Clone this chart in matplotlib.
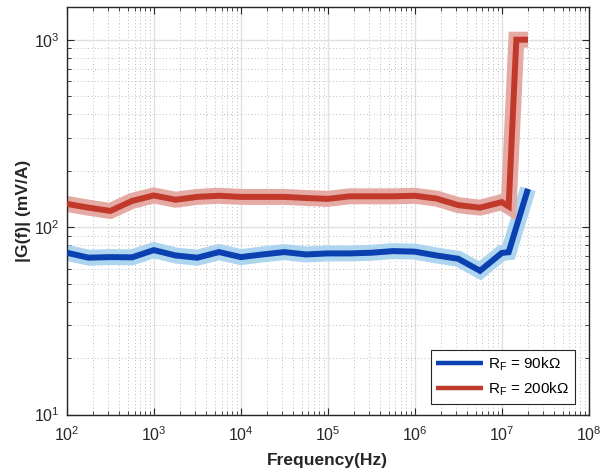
import matplotlib
matplotlib.use("Agg")
import matplotlib.pyplot as plt
from matplotlib.ticker import NullFormatter, FixedLocator, LogFormatterMathtext

plt.rcParams['font.family'] = ['Liberation Sans', 'DejaVu Sans']
plt.rcParams['mathtext.fontset'] = 'custom'
plt.rcParams['mathtext.rm'] = 'Liberation Sans'
plt.rcParams['mathtext.it'] = 'Liberation Sans:italic'

freq = [1e2, 1.78e2, 3.16e2, 5.62e2, 1e3, 1.78e3, 3.16e3, 5.62e3,
        1e4, 1.78e4, 3.16e4, 5.62e4, 1e5, 1.78e5, 3.16e5, 5.62e5,
        1e6, 1.78e6, 3.16e6, 5.62e6, 1e7, 1.2e7, 1.47e7, 2e7]

freq_90k = [1e2, 1.78e2, 3.16e2, 5.62e2, 1e3, 1.78e3, 3.16e3, 5.62e3,
            1e4, 1.78e4, 3.16e4, 5.62e4, 1e5, 1.78e5, 3.16e5, 5.62e5,
            1e6, 1.78e6, 3.16e6, 5.62e6, 1e7, 1.2e7, 2e7]
g_90k = [73, 68.7, 69.2, 69, 75.4, 70.6, 68.7, 73.6,
         69.2, 71.5, 73.6, 71.5, 72.4, 72.4, 73, 74.5,
         74, 70.6, 67.8, 58.5, 72.8, 73.5, 160]

g_200k = [133, 127, 122, 138, 147.5, 140, 145, 147,
          145, 145, 145, 143, 141.5, 146, 146, 146,
          147, 142, 131, 127, 136, 129, 1000, 1000]

xticks = [1e2, 1e3, 1e4, 1e5, 1e6, 1e7, 1e8]
yticks = [1e1, 1e2, 1e3]

labels = [r'R$_\mathregular{F}$ = 90k$\Omega$', r'R$_\mathregular{F}$ = 200k$\Omega$']

fig = plt.figure(figsize=(6.02, 4.76), dpi=100)
ax = fig.add_axes([0.111, 0.129, 0.867, 0.857])

blue_dark = '#0a40b0'
blue_light = '#aed5f0'
red_dark = '#c0392b'
red_light = '#e6aaa5'

kw = dict(solid_joinstyle='miter', solid_capstyle='butt')
ax.plot(freq_90k, g_90k, color=blue_light, lw=11.5, zorder=2, **kw)
ax.plot(freq_90k, g_90k, color=blue_dark, lw=4.3, zorder=3, label=labels[0], **kw)
ax.plot(freq, g_200k, color=red_light, lw=11.5, zorder=2, **kw)
ax.plot(freq, g_200k, color=red_dark, lw=4.3, zorder=3, label=labels[1], **kw)

ax.set_xscale('log')
ax.set_yscale('log')
ax.set_xlim(1e2, 1e8)
ax.set_ylim(10, 1500)
ax.xaxis.set_major_locator(FixedLocator(xticks))
ax.yaxis.set_major_locator(FixedLocator(yticks))
ax.xaxis.set_major_formatter(LogFormatterMathtext())
ax.yaxis.set_major_formatter(LogFormatterMathtext())
ax.xaxis.set_minor_formatter(NullFormatter())
ax.yaxis.set_minor_formatter(NullFormatter())

ax.grid(True, which='major', color='#e0e0e0', lw=1.0, ls='-')
ax.grid(True, which='minor', color='#bdbdbd', lw=0.7, ls=(0, (1, 2.5)))
ax.set_axisbelow(True)

ax.tick_params(which='both', direction='in', top=True, right=True, labelsize=11.5, colors='#262626')
ax.tick_params(axis='x', which='major', pad=8)
ax.tick_params(axis='y', which='major', pad=5)
ax.tick_params(which='major', length=5, width=0.8)
ax.tick_params(which='minor', length=3, width=0.6)
for s in ax.spines.values():
    s.set_color('#262626')
    s.set_linewidth(1.0)

ax.set_xlabel('Frequency(Hz)', fontsize=12.5, fontweight='bold', color='#262626', labelpad=6)
ax.set_ylabel('|G(f)| (mV/A)', fontsize=12.5, fontweight='bold', color='#262626', labelpad=2)

leg = ax.legend(loc='lower right', fontsize=11, frameon=True, fancybox=False,
                edgecolor='#262626', framealpha=1, handlelength=3.1, borderpad=0.35,
                labelspacing=0.5, handletextpad=0.3, borderaxespad=0,
                bbox_to_anchor=(0.973, 0.027))
leg.get_frame().set_linewidth(0.8)
for h in leg.get_lines():
    h.set_linewidth(3.2)

fig.savefig('out.png', dpi=100)
